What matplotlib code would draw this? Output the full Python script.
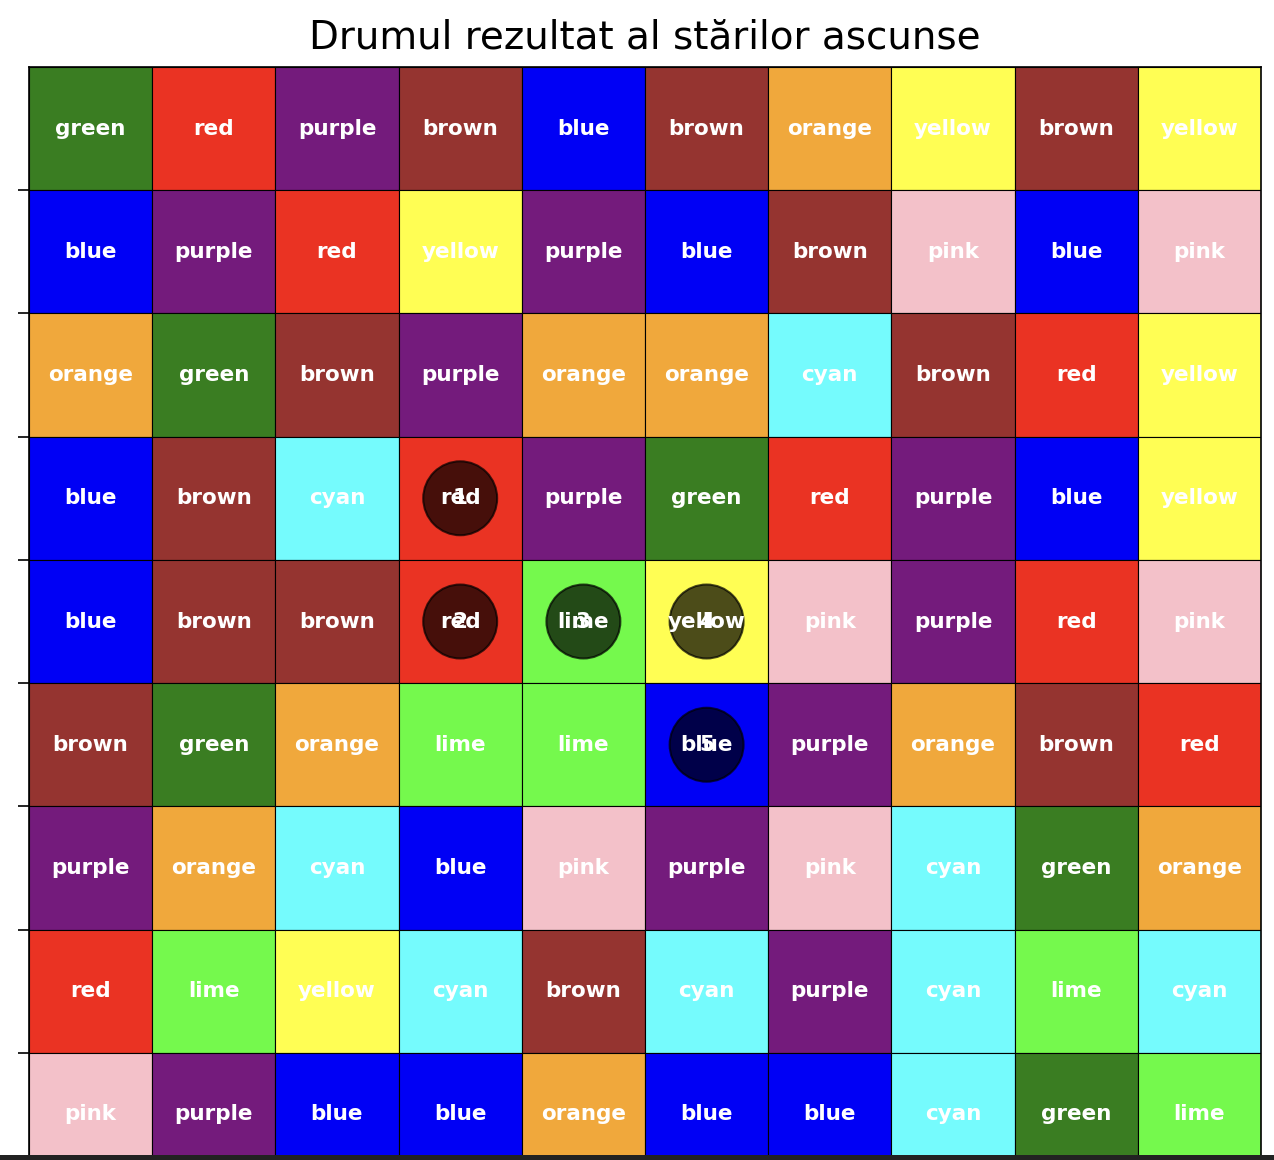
import matplotlib.pyplot as plt
from matplotlib.patches import Rectangle, Circle

# culorile afisate in captura (named colors dupa conversia ecranului)
palette = {
    'green': '#3a7d22',
    'red': '#ea3323',
    'purple': '#741b7c',
    'brown': '#953430',
    'blue': '#0000f5',
    'orange': '#f0a83c',
    'yellow': '#fffe54',
    'cyan': '#75fbfd',
    'pink': '#f3c1c9',
    'lime': '#75f94d',
}

grid = [
    ['green', 'red', 'purple', 'brown', 'blue', 'brown', 'orange', 'yellow', 'brown', 'yellow'],
    ['blue', 'purple', 'red', 'yellow', 'purple', 'blue', 'brown', 'pink', 'blue', 'pink'],
    ['orange', 'green', 'brown', 'purple', 'orange', 'orange', 'cyan', 'brown', 'red', 'yellow'],
    ['blue', 'brown', 'cyan', 'red', 'purple', 'green', 'red', 'purple', 'blue', 'yellow'],
    ['blue', 'brown', 'brown', 'red', 'lime', 'yellow', 'pink', 'purple', 'red', 'pink'],
    ['brown', 'green', 'orange', 'lime', 'lime', 'blue', 'purple', 'orange', 'brown', 'red'],
    ['purple', 'orange', 'cyan', 'blue', 'pink', 'purple', 'pink', 'cyan', 'green', 'orange'],
    ['red', 'lime', 'yellow', 'cyan', 'brown', 'cyan', 'purple', 'cyan', 'lime', 'cyan'],
    ['pink', 'purple', 'blue', 'blue', 'orange', 'blue', 'blue', 'cyan', 'green', 'lime'],
]

# drumul starilor ascunse: (rand, coloana)
path_rows = [3, 4, 4, 4, 5]
path_cols = [3, 3, 4, 5, 5]

n_rows = len(grid)
n_cols = len(grid[0])

fig = plt.figure(figsize=(12.74, 11.6), dpi=100)
ax = fig.add_axes([29 / 1274, -16 / 1160, 1232 / 1274, 1109 / 1160])

for i, row in enumerate(grid):
    for j, name in enumerate(row):
        ax.add_patch(Rectangle((j, i), 1, 1, facecolor=palette[name],
                               edgecolor='black', linewidth=0.8, zorder=1))
        ax.text(j + 0.5, i + 0.5, name, ha='center', va='center',
                color='white', fontsize=15.5, fontweight='bold', zorder=3)

for k, (r, c) in enumerate(zip(path_rows, path_cols), start=1):
    ax.add_patch(Circle((c + 0.5, r + 0.5), 0.3, facecolor='black',
                        edgecolor='black', linewidth=1.5, alpha=0.7, zorder=2))
    ax.text(c + 0.5, r + 0.5, str(k), ha='center', va='center',
            color='white', fontsize=15.5, fontweight='bold', zorder=4)

ax.set_xlim(0, n_cols)
ax.set_ylim(n_rows, 0)
ax.set_xticks([])
ax.set_yticks(range(1, n_rows + 1))
ax.set_yticklabels([])
ax.tick_params(axis='y', length=8, width=1.2)
for s in ax.spines.values():
    s.set_linewidth(1.2)

ax.set_title('Drumul rezultat al stărilor ascunse', fontsize=28, pad=13)

# banda intunecata de la marginea de jos a capturii
fig.patches.append(Rectangle((0, 0), 1, 5 / 1160, transform=fig.transFigure,
                             facecolor='#222222', edgecolor='none', zorder=5))

fig.savefig('out.png', dpi=100)
